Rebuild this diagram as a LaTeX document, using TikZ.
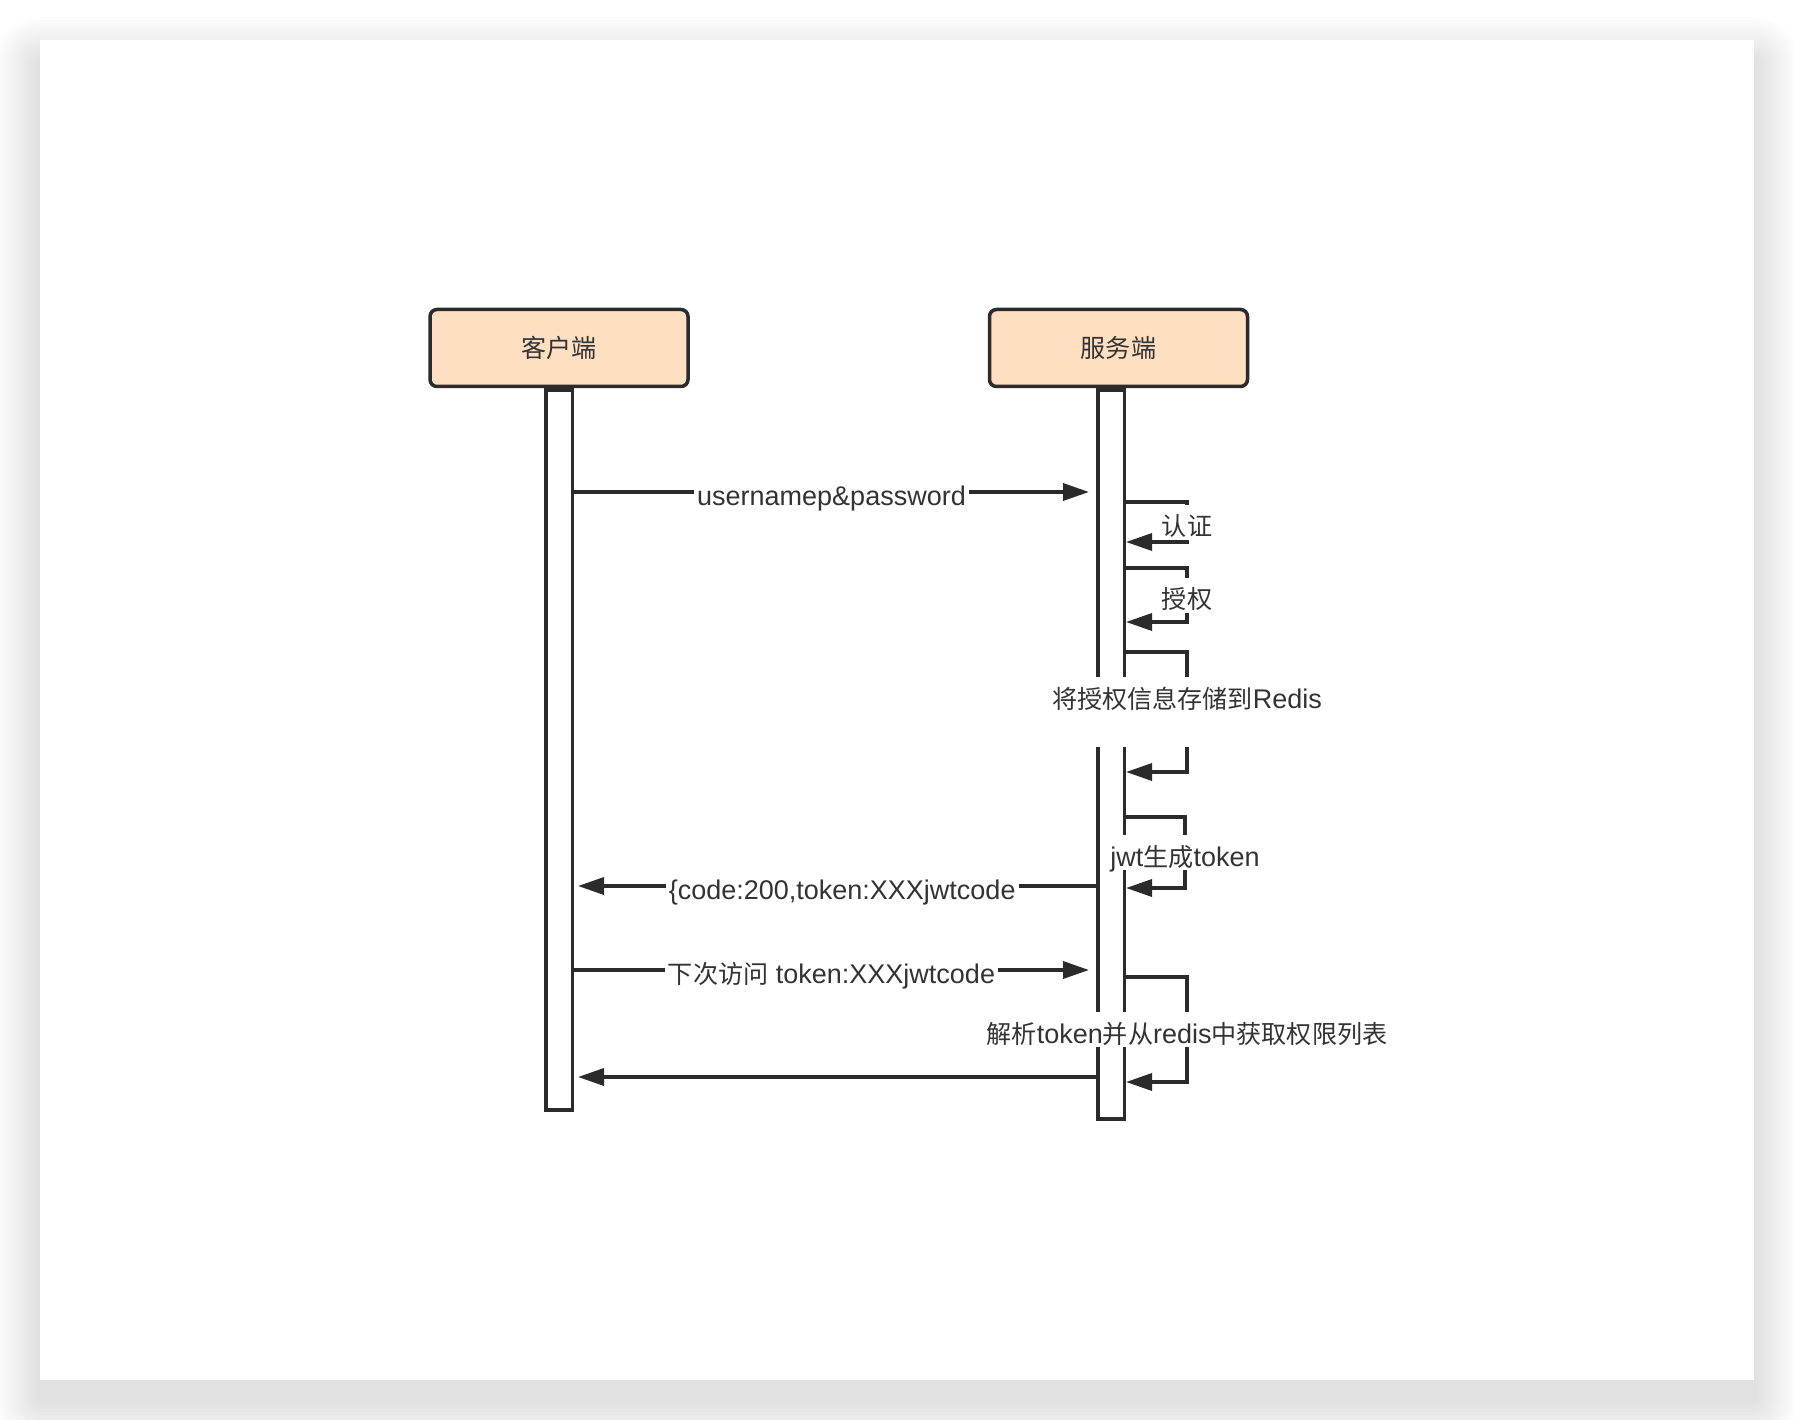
\documentclass[tikz,border=0pt]{standalone}
\usepackage{fontspec}
\setmainfont{Liberation Sans}
\newfontfamily\cjk[Scale=0.93]{Noto Sans CJK SC}
\usepackage{xcolor}
\usepackage{tikz}
\usetikzlibrary{arrows.meta,positioning}
\definecolor{boxfill}{HTML}{FFDFC1}
\definecolor{linegray}{HTML}{2B2B2B}
\definecolor{textgray}{HTML}{333333}

\begin{document}
\begin{tikzpicture}[x=1pt, y=-1pt,
  font=\fontsize{27}{32}\selectfont, text=textgray,
  actor/.style={draw=linegray, fill=boxfill, line width=3.5pt, rounded corners=7pt,
    minimum width=258pt, minimum height=77pt},
  bar/.style={draw=linegray, fill=white, line width=3.5pt, anchor=north, inner sep=0pt,
    minimum width=26.5pt},
  msg/.style={draw=linegray, line width=3.5pt, -{Triangle[length=26pt,width=17pt]}},
  lbl/.style={fill=white, inner xsep=3pt, inner ysep=2pt, text height=29pt, text depth=2pt}]
  \useasboundingbox[fill=white] (0,0) rectangle (1794,1420);
  % card with a soft shadow
  \foreach \r in {3,6,...,45}
    \fill[black, opacity=0.006, rounded corners=\r pt] (40-\r,62-\r) rectangle (1754+\r,1400+\r);
  \fill[white] (40,40) rectangle (1754,1380);
  % participants and their lifelines
  \node[actor] (client) at (559,348) {{\cjk 客户端}};
  \node[actor] (server) [right=298pt of client] {{\cjk 服务端}};
  \node[bar, minimum height=720pt] (cbar) at (client.south) {};
  \node[bar, minimum height=729pt] (sbar) at ([xshift=-7.5pt]server.south) {};
  % login request
  \draw[msg] (cbar.east |- 0,492) -- ([xshift=-7pt]sbar.west |- 0,492)
    node[lbl, midway] {usernamep\&password};
  % server side steps
  \draw[msg] (sbar.east |- 0,502) -- (1187,502) -- (1187,542)
    node[lbl, midway] {{\cjk 认证}} -- (sbar.east |- 0,542);
  \draw[msg] (sbar.east |- 0,568) -- (1187,568) -- (1187,622)
    node[lbl, midway] {{\cjk 授权}} -- (sbar.east |- 0,622);
  \draw[msg] (sbar.east |- 0,652) -- (1187,652) -- (1187,772)
    node[lbl, midway, text depth=37pt] {{\cjk 将授权信息存储到}Redis} -- (sbar.east |- 0,772);
  \draw[msg] (sbar.east |- 0,817) -- (1185,817) -- (1185,888)
    node[lbl, midway] {jwt{\cjk 生成}token} -- (sbar.east |- 0,888);
  % token returned to the client
  \draw[msg] (sbar.west |- 0,886) -- ([xshift=4pt]cbar.east |- 0,886)
    node[lbl, pos=0.49] {\{code:200,token:XXXjwtcode};
  % next request with the token
  \draw[msg] (cbar.east |- 0,970) -- ([xshift=-7pt]sbar.west |- 0,970)
    node[lbl, midway] {{\cjk 下次访问} token:XXXjwtcode};
  \draw[msg] (sbar.east |- 0,977) -- (1187,977) -- (1187,1082)
    node[lbl, midway] {{\cjk 解析}token{\cjk 并从}redis{\cjk 中获取权限列表}} -- (sbar.east |- 0,1082);
  % response
  \draw[msg] (sbar.west |- 0,1077) -- ([xshift=4pt]cbar.east |- 0,1077);
\end{tikzpicture}
\end{document}
